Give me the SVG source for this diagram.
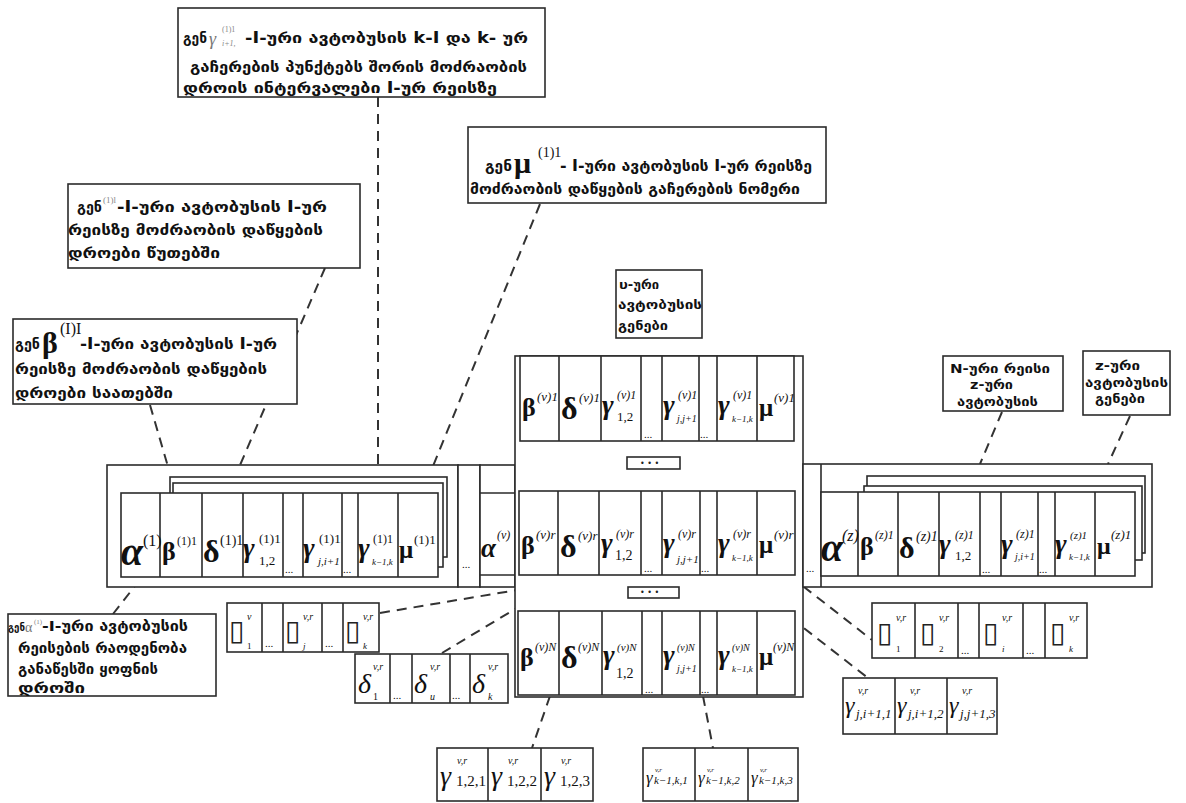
<svg xmlns="http://www.w3.org/2000/svg" width="1186" height="803" viewBox="0 0 1186 803">
<style>
.b{fill:#fff;stroke:#2b2b2b;stroke-width:1.6}
.l{fill:none;stroke:#2b2b2b;stroke-width:1.6}
.d{fill:none;stroke:#333;stroke-width:2;stroke-dasharray:10 7}
.g{font-family:"DejaVu Sans",sans-serif;font-weight:bold;fill:#111}
.m{font-family:"Liberation Serif","DejaVu Serif",serif;fill:#111}
.k{font-weight:bold}
.i{font-style:italic}
.t{font-family:"DejaVu Sans",sans-serif;fill:#222}
</style>
<rect width="1186" height="803" fill="#fff"/>

<g id="connectors">
<path class="d" d="M378,97 L378,465"/>
<path class="d" d="M540,204 L422,493"/>
<path class="d" d="M325,268 L228,493"/>
<path class="d" d="M150,405 L171,477"/>
<path class="d" d="M113,614 L142,577"/>
<path class="d" d="M380,613 L517,590"/>
<path class="d" d="M442,653 L570,576"/>
<path class="d" d="M614,576 L588,611"/>
<path class="d" d="M676,576 L688,611"/>
<path class="d" d="M737,576 L868,678"/>
<path class="d" d="M790,576 L872,640"/>
<path class="d" d="M550,696 L532,748"/>
<path class="d" d="M703,696 L713,748"/>
<path class="d" d="M1002,412 L980,464"/>
<path class="d" d="M1130,416 L1108,464"/>
</g>

<g id="callout-gamma">
<rect class="b" x="178" y="8" width="367" height="89"/>
<text class="g" x="183" y="43" font-size="15" textLength="24" lengthAdjust="spacingAndGlyphs">გენ</text>
<text class="m i" x="209" y="45" font-size="18" style="fill:#777">γ</text>
<text class="m" x="222" y="32" font-size="8" style="fill:#888">(1)1</text>
<text class="m i" x="222" y="46" font-size="8" style="fill:#888">i+1,</text>
<text class="g" x="245" y="43" font-size="15" textLength="283" lengthAdjust="spacingAndGlyphs">-I-ური ავტობუსის k-I და k- ურ</text>
<text class="g" x="190" y="72" font-size="15" textLength="337" lengthAdjust="spacingAndGlyphs">გაჩერების პუნქტებს შორის მოძრაობის</text>
<text class="g" x="183" y="93" font-size="15" textLength="314" lengthAdjust="spacingAndGlyphs">დროის ინტერვალები I-ურ რეისზე</text>
</g>

<g id="callout-mu">
<rect class="b" x="468" y="127" width="358" height="76"/>
<text class="g" x="485" y="171" font-size="15" textLength="27" lengthAdjust="spacingAndGlyphs">გენ</text>
<text class="m k" x="514" y="173" font-size="30">μ</text>
<text class="m" x="538" y="157" font-size="14">(1)1</text>
<text class="g" x="560" y="171" font-size="15" textLength="252" lengthAdjust="spacingAndGlyphs">- I-ური ავტობუსის I-ურ რეისზე</text>
<text class="g" x="470" y="194" font-size="15" textLength="330" lengthAdjust="spacingAndGlyphs">მოძრაობის დაწყების გაჩერების ნომერი</text>
</g>

<g id="callout-delta">
<rect class="b" x="68" y="184" width="292" height="84"/>
<text class="g" x="77" y="212" font-size="15" textLength="25" lengthAdjust="spacingAndGlyphs">გენ</text>
<text class="m" x="103" y="203" font-size="9" style="fill:#888">(1)l</text>
<text class="g" x="117" y="212" font-size="15" textLength="210" lengthAdjust="spacingAndGlyphs">-I-ური ავტობუსის I-ურ</text>
<text class="g" x="68" y="235" font-size="15" textLength="255" lengthAdjust="spacingAndGlyphs">რეისზე მოძრაობის დაწყების</text>
<text class="g" x="68" y="258" font-size="15" textLength="152" lengthAdjust="spacingAndGlyphs">დროები წუთებში</text>
</g>

<g id="callout-beta">
<rect class="b" x="13" y="319" width="284" height="85"/>
<text class="g" x="15" y="349" font-size="15" textLength="25" lengthAdjust="spacingAndGlyphs">გენ</text>
<text class="m k" x="42" y="353" font-size="30">β</text>
<text class="m" x="60" y="334" font-size="16">(I)I</text>
<text class="g" x="80" y="349" font-size="15" textLength="197" lengthAdjust="spacingAndGlyphs">-I-ური ავტობუსის I-ურ</text>
<text class="g" x="15" y="374" font-size="15" textLength="252" lengthAdjust="spacingAndGlyphs">რეისზე მოძრაობის დაწყების</text>
<text class="g" x="15" y="398" font-size="15" textLength="158" lengthAdjust="spacingAndGlyphs">დროები საათებში</text>
</g>

<g id="callout-alpha">
<rect class="b" x="8" y="614" width="208" height="82"/>
<text class="g" x="8" y="631" font-size="10" textLength="17" lengthAdjust="spacingAndGlyphs">გენ</text>
<text class="m" x="25" y="632" font-size="14" style="fill:#777">α</text>
<text class="m" x="34" y="624" font-size="7" style="fill:#888">(1)</text>
<text class="g" x="42" y="631" font-size="14" textLength="146" lengthAdjust="spacingAndGlyphs">-I-ური ავტობუსის</text>
<text class="g" x="18" y="653" font-size="14" textLength="169" lengthAdjust="spacingAndGlyphs">რეისების რაოდენობა</text>
<text class="g" x="18" y="674" font-size="14" textLength="140" lengthAdjust="spacingAndGlyphs">განაწესში ყოფნის</text>
<text class="g" x="18" y="693" font-size="14" textLength="67" lengthAdjust="spacingAndGlyphs">დროში</text>
</g>

<g id="callout-v">
<rect class="b" x="616" y="270" width="86" height="68"/>
<text class="g" x="619" y="289" font-size="12" textLength="40" lengthAdjust="spacingAndGlyphs">υ-ური</text>
<text class="g" x="618" y="309" font-size="12" textLength="84" lengthAdjust="spacingAndGlyphs">ავტობუსის</text>
<text class="g" x="618" y="330" font-size="12" textLength="50" lengthAdjust="spacingAndGlyphs">გენები</text>
</g>

<g id="callout-N">
<rect class="b" x="943" y="356" width="120" height="55"/>
<text class="g" x="950" y="373" font-size="12" textLength="100" lengthAdjust="spacingAndGlyphs">N-ური რეისი</text>
<text class="g" x="970" y="389" font-size="12" textLength="43" lengthAdjust="spacingAndGlyphs">z-ური</text>
<text class="g" x="957" y="406" font-size="12" textLength="81" lengthAdjust="spacingAndGlyphs">ავტობუსის</text>
</g>

<g id="callout-z">
<rect class="b" x="1083" y="351" width="87" height="64"/>
<text class="g" x="1095" y="370" font-size="12" textLength="45" lengthAdjust="spacingAndGlyphs">z-ური</text>
<text class="g" x="1085" y="387" font-size="12" textLength="83" lengthAdjust="spacingAndGlyphs">ავტობუსის</text>
<text class="g" x="1095" y="403" font-size="12" textLength="50" lengthAdjust="spacingAndGlyphs">გენები</text>
</g>

<g id="bus-1">
<rect class="b" x="107" y="465" width="351" height="122"/>
<rect class="b" x="170" y="477" width="277" height="80"/>
<rect class="b" x="173" y="483" width="270" height="84"/>
<rect class="b" x="121" y="493" width="317" height="84"/>
<path class="l" d="M160,493V577M202,493V577M243,493V577M283,493V577M303,493V577M342,493V577M358,493V577M398,493V577"/>
<text class="m i k" x="121" y="565" font-size="40">α</text>
<text class="m" x="143" y="546" font-size="16">(1)</text>
<text class="m k" x="162" y="560" font-size="26">β</text>
<text class="m" x="177" y="545" font-size="12">(1)1</text>
<text class="m k" x="203" y="562" font-size="32">δ</text>
<text class="m" x="220" y="545" font-size="14">(1)1</text>
<text class="m i k" x="243" y="557" font-size="28">γ</text>
<text class="m" x="259" y="543" font-size="13">(1)1</text>
<text class="m" x="259" y="565" font-size="13">1,2</text>
<text class="m" x="285" y="573" font-size="11">...</text>
<text class="m i k" x="303" y="557" font-size="28">γ</text>
<text class="m" x="319" y="543" font-size="13">(1)1</text>
<text class="m i" x="318" y="565" font-size="11">j,i+1</text>
<text class="m" x="343" y="573" font-size="11">...</text>
<text class="m i k" x="358" y="557" font-size="28">γ</text>
<text class="m" x="373" y="543" font-size="12">(1)1</text>
<text class="m i" x="372" y="565" font-size="9">k−1,k</text>
<text class="m k" x="399" y="558" font-size="25">μ</text>
<text class="m" x="414" y="544" font-size="13">(1)1</text>
</g>

<g id="dots-1">
<rect class="b" x="458" y="465" width="22" height="122"/>
<text class="m" x="462" y="568" font-size="11">...</text>
</g>

<g id="bus-v-alpha">
<rect class="b" x="480" y="465" width="35" height="122"/>
<path class="l" d="M480,493H515M480,575H515"/>
<text class="m i k" x="481" y="557" font-size="27">α</text>
<text class="m i" x="497" y="539" font-size="12">(v)</text>
</g>

<g id="bus-v">
<rect class="b" x="515" y="356" width="288" height="341"/>
<g id="trip-1">
<rect class="b" x="520" y="356" width="274" height="85"/>
<path class="l" d="M559,356V441M601,356V441M641,356V441M662,356V441M699,356V441M717,356V441M757,356V441"/>
<text class="m k" x="522" y="416" font-size="26">β</text>
<text class="m i" x="537" y="401" font-size="13">(v)1</text>
<text class="m k" x="561" y="419" font-size="32">δ</text>
<text class="m i" x="579" y="402" font-size="13">(v)1</text>
<text class="m i k" x="602" y="414" font-size="28">γ</text>
<text class="m i" x="617" y="399" font-size="12">(v)1</text>
<text class="m" x="617" y="421" font-size="13">1,2</text>
<text class="m" x="644" y="438" font-size="11">...</text>
<text class="m i k" x="663" y="414" font-size="28">γ</text>
<text class="m i" x="678" y="399" font-size="12">(v)1</text>
<text class="m i" x="677" y="422" font-size="10">j,j+1</text>
<text class="m" x="700" y="438" font-size="11">...</text>
<text class="m i k" x="718" y="414" font-size="28">γ</text>
<text class="m i" x="733" y="399" font-size="12">(v)1</text>
<text class="m i" x="732" y="422" font-size="9">k−1,k</text>
<text class="m k" x="759" y="416" font-size="25">μ</text>
<text class="m i" x="774" y="402" font-size="13">(v)1</text>
</g>
<g id="dots-v-upper">
<rect class="b" x="627" y="457" width="53" height="12"/>
<text class="t" x="640" y="466" font-size="8">• • •</text>
</g>
<g id="trip-r">
<rect class="b" x="519" y="491" width="276" height="84"/>
<path class="l" d="M558,491V575M599,491V575M641,491V575M662,491V575M700,491V575M717,491V575M757,491V575"/>
<text class="m k" x="521" y="554" font-size="26">β</text>
<text class="m i" x="536" y="539" font-size="13">(v)r</text>
<text class="m k" x="560" y="557" font-size="32">δ</text>
<text class="m i" x="578" y="540" font-size="13">(v)r</text>
<text class="m i k" x="601" y="552" font-size="28">γ</text>
<text class="m i" x="616" y="538" font-size="12">(v)r</text>
<text class="m" x="615" y="560" font-size="14">1,2</text>
<text class="m" x="644" y="572" font-size="11">...</text>
<text class="m i k" x="663" y="552" font-size="28">γ</text>
<text class="m i" x="678" y="538" font-size="12">(v)r</text>
<text class="m i" x="677" y="563" font-size="11">j,j+1</text>
<text class="m" x="701" y="572" font-size="11">...</text>
<text class="m i k" x="718" y="552" font-size="28">γ</text>
<text class="m i" x="733" y="538" font-size="12">(v)r</text>
<text class="m i" x="732" y="561" font-size="9">k−1,k</text>
<text class="m k" x="759" y="553" font-size="25">μ</text>
<text class="m i" x="774" y="539" font-size="13">(v)r</text>
</g>
<g id="dots-v-lower">
<rect class="b" x="628" y="587" width="51" height="11"/>
<text class="t" x="640" y="595" font-size="8">• • •</text>
</g>
<g id="trip-N">
<rect class="b" x="518" y="611" width="277" height="84"/>
<path class="l" d="M559,611V695M602,611V695M642,611V695M662,611V695M700,611V695M717,611V695M757,611V695"/>
<text class="m k" x="520" y="666" font-size="26">β</text>
<text class="m i" x="535" y="651" font-size="12">(v)N</text>
<text class="m k" x="561" y="668" font-size="32">δ</text>
<text class="m i" x="578" y="651" font-size="12">(v)N</text>
<text class="m i k" x="603" y="664" font-size="28">γ</text>
<text class="m i" x="617" y="651" font-size="11">(v)N</text>
<text class="m" x="616" y="678" font-size="14">1,2</text>
<text class="m" x="645" y="693" font-size="11">...</text>
<text class="m i k" x="663" y="664" font-size="28">γ</text>
<text class="m i" x="677" y="651" font-size="10">(v)N</text>
<text class="m i" x="677" y="672" font-size="10">j,j+1</text>
<text class="m" x="701" y="693" font-size="11">...</text>
<text class="m i k" x="718" y="664" font-size="28">γ</text>
<text class="m i" x="732" y="651" font-size="10">(v)N</text>
<text class="m i" x="732" y="672" font-size="9">k−1,k</text>
<text class="m k" x="759" y="665" font-size="25">μ</text>
<text class="m i" x="773" y="651" font-size="12">(v)N</text>
</g>
</g>

<g id="bus-z">
<rect class="b" x="803" y="464" width="349" height="123"/>
<path class="l" d="M821,464V587"/>
<text class="m" x="806" y="572" font-size="11">...</text>
<rect class="b" x="867" y="476" width="278" height="77"/>
<rect class="b" x="864" y="486" width="278" height="74"/>
<rect class="b" x="821" y="492" width="314" height="84"/>
<path class="l" d="M858,492V576M898,492V576M939,492V576M980,492V576M1001,492V576M1038,492V576M1055,492V576M1095,492V576"/>
<text class="m i k" x="821" y="561" font-size="40">α</text>
<text class="m i" x="842" y="541" font-size="16">(z)</text>
<text class="m k" x="860" y="555" font-size="26">β</text>
<text class="m i" x="875" y="539" font-size="12">(z)1</text>
<text class="m k" x="899" y="558" font-size="30">δ</text>
<text class="m i" x="916" y="541" font-size="14">(z)1</text>
<text class="m i k" x="939" y="553" font-size="28">γ</text>
<text class="m i" x="955" y="539" font-size="12">(z)1</text>
<text class="m" x="955" y="560" font-size="13">1,2</text>
<text class="m" x="982" y="573" font-size="11">...</text>
<text class="m i k" x="1001" y="553" font-size="28">γ</text>
<text class="m i" x="1016" y="538" font-size="12">(z)1</text>
<text class="m i" x="1015" y="560" font-size="10">j,i+1</text>
<text class="m" x="1039" y="573" font-size="11">...</text>
<text class="m i k" x="1055" y="553" font-size="28">γ</text>
<text class="m i" x="1070" y="539" font-size="11">(z)1</text>
<text class="m i" x="1069" y="560" font-size="9">k−1,k</text>
<text class="m k" x="1097" y="554" font-size="24">μ</text>
<text class="m i" x="1111" y="539" font-size="13">(z)1</text>
</g>

<g id="tofu-left">
<rect class="b" x="227" y="603" width="152" height="49"/>
<path class="l" d="M262,603V652M283,603V652M322,603V652M343,603V652"/>
<text class="t" x="229" y="640" font-size="28">▯</text>
<text class="m i" x="247" y="620" font-size="10">v</text>
<text class="m" x="247" y="649" font-size="9">1</text>
<text class="m" x="265" y="647" font-size="11">...</text>
<text class="t" x="285" y="640" font-size="28">▯</text>
<text class="m i" x="303" y="620" font-size="10">v,r</text>
<text class="m i" x="303" y="649" font-size="9">j</text>
<text class="m" x="325" y="647" font-size="11">...</text>
<text class="t" x="345" y="640" font-size="28">▯</text>
<text class="m i" x="363" y="620" font-size="10">v,r</text>
<text class="m i" x="363" y="649" font-size="9">k</text>
</g>

<g id="delta-left">
<rect class="b" x="355" y="654" width="153" height="49"/>
<path class="l" d="M390,654V703M412,654V703M450,654V703M470,654V703"/>
<text class="m i" x="358" y="693" font-size="28">δ</text>
<text class="m i" x="373" y="670" font-size="10">v,r</text>
<text class="m" x="373" y="700" font-size="10">1</text>
<text class="m" x="393" y="699" font-size="11">...</text>
<text class="m i" x="414" y="693" font-size="28">δ</text>
<text class="m i" x="430" y="670" font-size="10">v,r</text>
<text class="m i" x="430" y="700" font-size="10">u</text>
<text class="m" x="452" y="699" font-size="11">...</text>
<text class="m i" x="472" y="693" font-size="28">δ</text>
<text class="m i" x="488" y="670" font-size="10">v,r</text>
<text class="m i" x="488" y="700" font-size="10">k</text>
</g>

<g id="tofu-right">
<rect class="b" x="872" y="603" width="215" height="55"/>
<path class="l" d="M915,603V658M958,603V658M979,603V658M1023,603V658M1045,603V658"/>
<text class="t" x="877" y="642" font-size="28">▯</text>
<text class="m i" x="896" y="621" font-size="10">v,r</text>
<text class="m" x="896" y="652" font-size="9">1</text>
<text class="t" x="920" y="642" font-size="28">▯</text>
<text class="m i" x="939" y="621" font-size="10">v,r</text>
<text class="m" x="939" y="652" font-size="9">2</text>
<text class="m" x="961" y="654" font-size="11">...</text>
<text class="t" x="983" y="642" font-size="28">▯</text>
<text class="m i" x="1002" y="621" font-size="10">v,r</text>
<text class="m i" x="1002" y="652" font-size="9">i</text>
<text class="m" x="1026" y="654" font-size="11">...</text>
<text class="t" x="1050" y="642" font-size="28">▯</text>
<text class="m i" x="1069" y="621" font-size="10">v,r</text>
<text class="m i" x="1069" y="652" font-size="9">k</text>
</g>

<g id="gamma-right">
<rect class="b" x="843" y="678" width="154" height="56"/>
<path class="l" d="M895,678V734M947,678V734"/>
<text class="m i" x="845" y="713" font-size="24">γ</text>
<text class="m i" x="858" y="694" font-size="10">v,r</text>
<text class="m i" x="856" y="718" font-size="13">j,i+1,1</text>
<text class="m i" x="897" y="713" font-size="24">γ</text>
<text class="m i" x="910" y="694" font-size="10">v,r</text>
<text class="m i" x="908" y="718" font-size="13">j,i+1,2</text>
<text class="m i" x="949" y="713" font-size="24">γ</text>
<text class="m i" x="962" y="694" font-size="10">v,r</text>
<text class="m i" x="960" y="718" font-size="13">j,j+1,3</text>
</g>

<g id="gamma-12">
<rect class="b" x="437" y="748" width="156" height="53"/>
<path class="l" d="M488,748V801M541,748V801"/>
<text class="m i" x="440" y="785" font-size="28">γ</text>
<text class="m i" x="457" y="764" font-size="10">v,r</text>
<text class="m" x="456" y="786" font-size="15">1,2,1</text>
<text class="m i" x="491" y="785" font-size="28">γ</text>
<text class="m i" x="508" y="764" font-size="10">v,r</text>
<text class="m" x="507" y="786" font-size="15">1,2,2</text>
<text class="m i" x="544" y="785" font-size="28">γ</text>
<text class="m i" x="561" y="764" font-size="10">v,r</text>
<text class="m" x="560" y="786" font-size="15">1,2,3</text>
</g>

<g id="gamma-k">
<rect class="b" x="643" y="748" width="155" height="53"/>
<path class="l" d="M695,748V801M748,748V801"/>
<text class="m i" x="646" y="783" font-size="17">γ</text>
<text class="m i" x="655" y="772" font-size="7">v,r</text>
<text class="m i" x="654" y="784" font-size="11">k−1,k,1</text>
<text class="m i" x="698" y="783" font-size="17">γ</text>
<text class="m i" x="707" y="772" font-size="7">v,r</text>
<text class="m i" x="706" y="784" font-size="11">k−1,k,2</text>
<text class="m i" x="751" y="783" font-size="17">γ</text>
<text class="m i" x="760" y="772" font-size="7">v,r</text>
<text class="m i" x="759" y="784" font-size="11">k−1,k,3</text>
</g>
</svg>
